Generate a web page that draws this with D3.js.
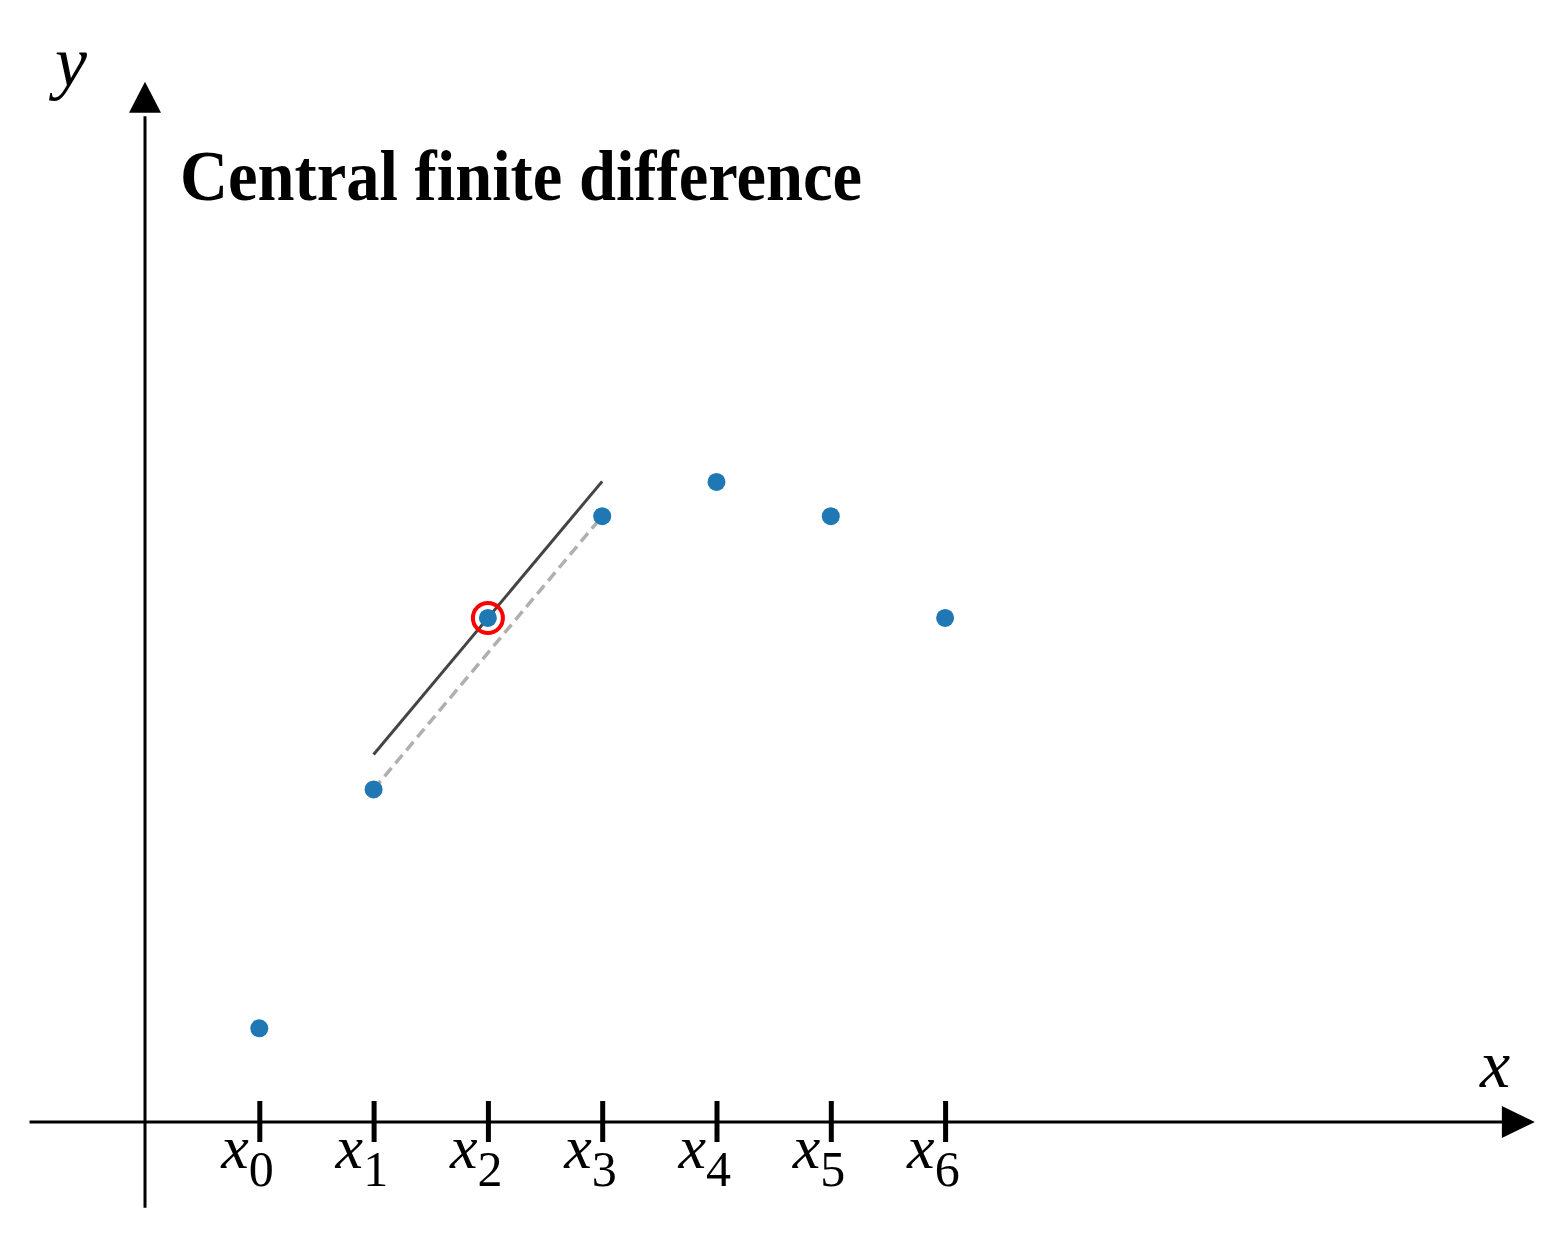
<!DOCTYPE html>
<html>
<head>
<meta charset="utf-8">
<script src="https://d3js.org/d3.v7.min.js"></script>
<style>
body { margin: 0; background: #fff; }
text { font-family: "Liberation Serif", "Times New Roman", serif; }
</style>
</head>
<body>
<div id="chart"></div>
<script>
var width = 1560;
var height = 1237;

// data
var xValues = [1, 2, 3, 4, 5, 6, 7];
var yValues = [0.82, 2.91, 4.41, 5.30, 5.60, 5.30, 4.41];
var tickSubs = ["0", "1", "2", "3", "4", "5", "6"];
var centerIdx = 2;
var title = "Central finite difference";

var unit = 114.3;
var x = d3.scaleLinear().domain([0, 1]).range([145, 145 + unit]);
var y = d3.scaleLinear().domain([0, 1]).range([1122, 1122 - unit]);

var svg = d3.select("#chart").append("svg")
	.attr("width", width)
	.attr("height", height);

// axes lines
svg.append("line")
	.attr("x1", x(-1.01)).attr("x2", x(11.9))
	.attr("y1", y(0)).attr("y2", y(0))
	.attr("stroke", "#000").attr("stroke-width", 3);
svg.append("line")
	.attr("x1", x(0)).attr("x2", x(0))
	.attr("y1", y(-0.75)).attr("y2", y(8.8))
	.attr("stroke", "#000").attr("stroke-width", 3);

// arrow heads
var xTip = x(12.16), yTip = y(9.1);
svg.append("path")
	.attr("d", "M" + xTip + "," + y(0) + "L" + (xTip - 33) + "," + (y(0) - 16) + "L" + (xTip - 33) + "," + (y(0) + 16) + "Z")
	.attr("fill", "#000");
svg.append("path")
	.attr("d", "M" + x(0) + "," + yTip + "L" + (x(0) - 16) + "," + (yTip + 31) + "L" + (x(0) + 16) + "," + (yTip + 31) + "Z")
	.attr("fill", "#000");

// ticks through d3 axis
var xAxis = d3.axisBottom(x)
	.tickValues(xValues)
	.tickSize(20)
	.tickFormat("");
var gAxis = svg.append("g")
	.attr("transform", "translate(0," + y(0) + ")")
	.call(xAxis);
gAxis.select(".domain").remove();
gAxis.selectAll(".tick line")
	.attr("y1", -21)
	.attr("stroke", "#000")
	.attr("stroke-width", 5);

// tick labels x_i
var labels = svg.selectAll(".xlab")
	.data(xValues)
	.enter()
	.append("text")
	.attr("class", "xlab")
	.attr("x", function(d) { return x(d) - 38; })
	.attr("y", 1168);
labels.append("tspan")
	.attr("font-size", 62)
	.style("font-style", "italic")
	.text("x");
labels.append("tspan")
	.attr("font-size", 50)
	.attr("dy", 18)
	.text(function(d, i) { return tickSubs[i]; });

// axis names
svg.append("text")
	.attr("x", 55).attr("y", 86)
	.attr("font-size", 72)
	.style("font-style", "italic")
	.text("y");
svg.append("text")
	.attr("x", 1480).attr("y", 1087)
	.attr("font-size", 68)
	.style("font-style", "italic")
	.text("x");

// title
svg.append("text")
	.attr("x", 180).attr("y", 200)
	.attr("font-size", 72)
	.attr("font-weight", "bold")
	.attr("textLength", 682)
	.attr("lengthAdjust", "spacingAndGlyphs")
	.text(title);

// secant (dashed) between neighbours of centre point
var i0 = centerIdx - 1, i1 = centerIdx + 1;
svg.append("line")
	.attr("x1", x(xValues[i0])).attr("y1", y(yValues[i0]))
	.attr("x2", x(xValues[i1])).attr("y2", y(yValues[i1]))
	.attr("stroke", "#b0b0b0")
	.attr("stroke-width", 3.5)
	.attr("stroke-dasharray", "11,6");

// tangent estimate through centre point
var slope = (yValues[i1] - yValues[i0]) / (xValues[i1] - xValues[i0]);
var cx = xValues[centerIdx], cy = yValues[centerIdx];
svg.append("line")
	.attr("x1", x(xValues[i0])).attr("y1", y(cy + slope * (xValues[i0] - cx)))
	.attr("x2", x(xValues[i1])).attr("y2", y(cy + slope * (xValues[i1] - cx)))
	.attr("stroke", "#444444")
	.attr("stroke-width", 3);

// points
svg.selectAll(".pt")
	.data(xValues)
	.enter()
	.append("circle")
	.attr("class", "pt")
	.attr("cx", function(d) { return x(d); })
	.attr("cy", function(d, i) { return y(yValues[i]); })
	.attr("r", 9)
	.attr("fill", "#1f77b4");

// highlight ring
svg.append("circle")
	.attr("cx", x(cx)).attr("cy", y(cy))
	.attr("r", 15)
	.attr("fill", "none")
	.attr("stroke", "#ff0000")
	.attr("stroke-width", 4);
</script>
</body>
</html>
